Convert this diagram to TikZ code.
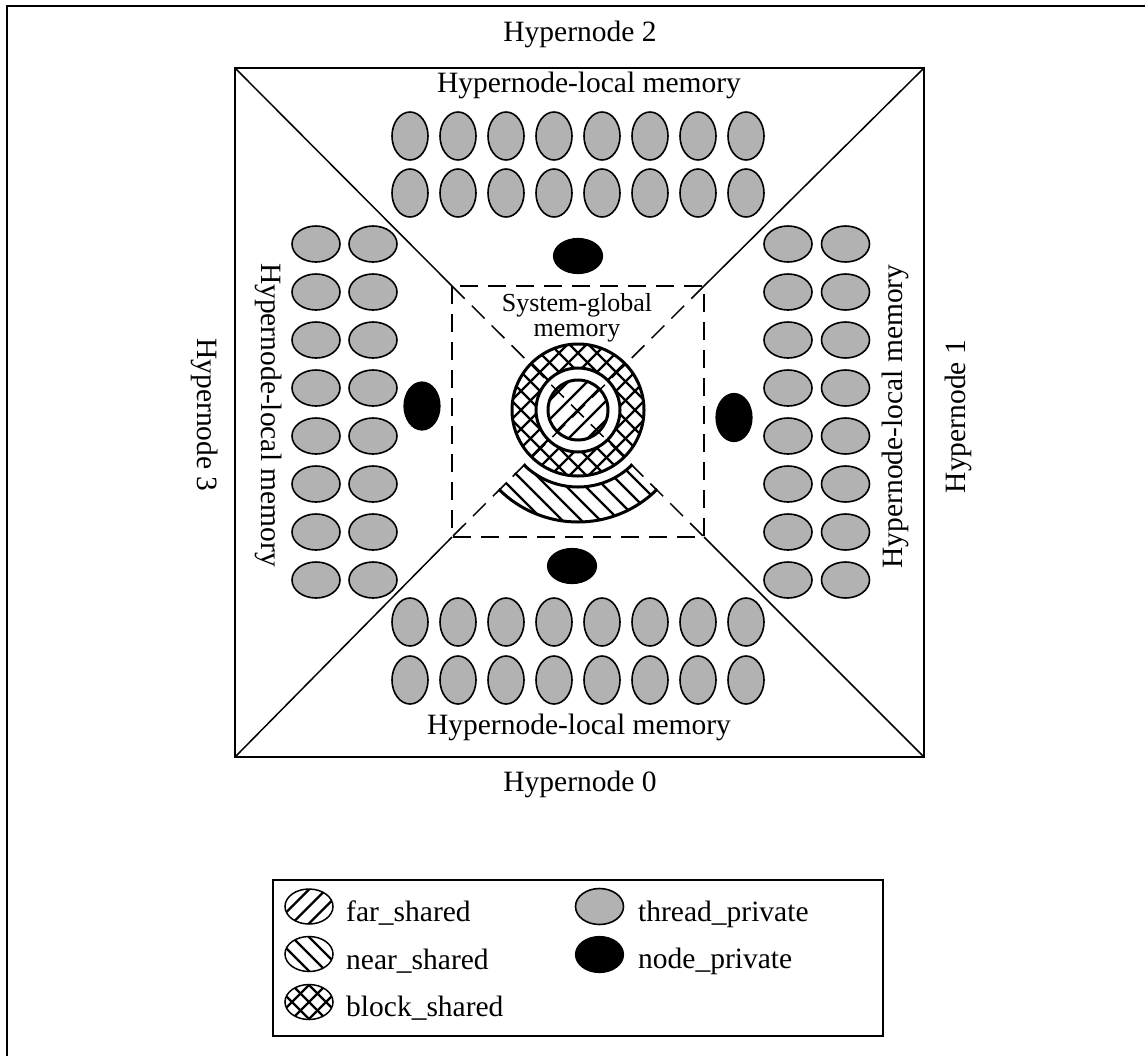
\documentclass[tikz,border=0pt]{standalone}
\usepackage{fontspec}
\setmainfont{Liberation Serif}
\usetikzlibrary{calc}
\begin{document}
\begin{tikzpicture}[x=1pt,y=-1pt,
  lbl/.style={inner sep=0pt, font=\fontsize{29.5}{32}\selectfont},
  sglbl/.style={inner sep=0pt, font=\fontsize{26}{28}\selectfont},
  thread/.style={draw=black, fill=black!30, line width=1.6pt},
  nodepriv/.style={draw=black, fill=black, line width=1.2pt},
  thin/.style={line width=1.5pt},
  dashline/.style={line width=1.5pt, dash pattern=on 18pt off 10pt},
  hatchline/.style={line width=2.2pt},
  ring/.style={line width=3pt}]

\useasboundingbox (0,0) rectangle (1145,1055);
\clip (0,0) rectangle (1145,1055);

% outer frame (left and top edges)
\draw[line width=2.5pt] (7,1070) -- (7,6) -- (1160,6);

% hypernode square with its diagonals
\coordinate (A1) at (235,68);  \coordinate (A2) at (924,68);
\coordinate (A3) at (924,757); \coordinate (A4) at (235,757);
\coordinate (B1) at (452,286); \coordinate (B2) at (704,286);
\coordinate (B3) at (704,537); \coordinate (B4) at (452,537);
\draw[thin] (A1) rectangle (A3);
\draw[thin] (A1) -- (B1) (A2) -- (B2) (A3) -- (B3) (A4) -- (B4);
\draw[dashline] (B1) rectangle (B3);

% thread_private memories
\foreach \i in {0,...,7} {
  \foreach \yy in {136,193,622,680}
    \filldraw[thread] (410+48*\i,\yy) ellipse [x radius=18, y radius=24];
  \foreach \xx in {316,373,788,845.5}
    \filldraw[thread] (\xx,244+48*\i) ellipse [x radius=24, y radius=18];
}

% node_private memories
\filldraw[nodepriv] (578,256) ellipse [x radius=24.5, y radius=17.5];
\filldraw[nodepriv] (572,566) ellipse [x radius=24.5, y radius=17.5];
\filldraw[nodepriv] (422,406) ellipse [x radius=18, y radius=24];
\filldraw[nodepriv] (734,417.5) ellipse [x radius=18, y radius=24];

% system-global memory rings
\coordinate (C) at (578,410);
% block_shared: cross-hatched disk
\begin{scope}
  \clip (C) circle (66);
  \foreach \k in {-6,...,6} {
    \draw[hatchline] (578+\k*19-120,410+120) -- (578+\k*19+120,410-120);
    \draw[hatchline] (578+\k*19-120,410-120) -- (578+\k*19+120,410+120);
  }
\end{scope}
\filldraw[ring, fill=white] (C) circle (42);
% far_shared: inner disk
\begin{scope}
  \clip (C) circle (30);
  \foreach \k in {-4,...,4}
    \draw[hatchline] (578+\k*19-80,410+80) -- (578+\k*19+80,410-80);
\end{scope}
\draw[ring] (C) circle (30);
\draw[ring] (C) circle (66);
% near_shared: lower annular sector
\begin{scope}
  \clip ($(C)+(45:77)$) arc[start angle=45, end angle=135, radius=77]
        -- ($(C)+(135:112)$) arc[start angle=135, end angle=45, radius=112] -- cycle;
  \foreach \k in {-14,...,14}
    \draw[hatchline] (578+\k*19-200,460-200) -- (578+\k*19+200,460+200);
\end{scope}
\draw[ring] ($(C)+(45:77)$) arc[start angle=45, end angle=135, radius=77];
\draw[ring] ($(C)+(45:112)$) arc[start angle=45, end angle=135, radius=112];

% dashed diagonals through the global region
\draw[dashline] (B1) -- (B3) (B2) -- (B4);

% labels
\node[lbl, anchor=base] (hn2) at (580,41) {Hypernode 2};
\node[lbl, anchor=base] (hl2) at (589,92) {Hypernode-local memory};
\node[lbl, anchor=base] (hl0) at (579,734) {Hypernode-local memory};
\node[lbl, anchor=base] (hn0) at (580,791) {Hypernode 0};
\node[lbl, anchor=base, rotate=-90] (hl3) at (261,415) {Hypernode-local memory};
\node[lbl, anchor=base, rotate=-90] (hn3) at (197,415) {Hypernode 3};
\node[lbl, anchor=base, rotate=90] (hl1) at (902,416.5) {Hypernode-local memory};
\node[lbl, anchor=base, rotate=90] (hn1) at (965,416.5) {Hypernode 1};
\node[sglbl, anchor=base] (sg1) at (577,311) {System-global};
\node[sglbl, anchor=base] (sg2) at (577,336) {memory};

% legend
\draw[thin] (273,880) rectangle (883,1036);
\begin{scope}
  \clip (309,906.5) ellipse [x radius=24, y radius=17.5];
  \foreach \k in {-3,...,3}
    \draw[hatchline] (309+\k*17-40,906.5+40) -- (309+\k*17+40,906.5-40);
\end{scope}
\draw[thin] (309,906.5) ellipse [x radius=24, y radius=17.5];
\begin{scope}
  \clip (309,954) ellipse [x radius=24, y radius=17.5];
  \foreach \k in {-3,...,3}
    \draw[hatchline] (309+\k*17-40,954-40) -- (309+\k*17+40,954+40);
\end{scope}
\draw[thin] (309,954) ellipse [x radius=24, y radius=17.5];
\begin{scope}
  \clip (309,1002) ellipse [x radius=24, y radius=17.5];
  \foreach \k in {-3,...,3} {
    \draw[hatchline] (309+\k*17-40,1002+40) -- (309+\k*17+40,1002-40);
    \draw[hatchline] (309+\k*17-40,1002-40) -- (309+\k*17+40,1002+40);
  }
\end{scope}
\draw[thin] (309,1002) ellipse [x radius=24, y radius=17.5];
\filldraw[thread] (599.5,906.5) ellipse [x radius=24, y radius=18];
\filldraw[nodepriv] (599.5,954.5) ellipse [x radius=24, y radius=18];

\node[lbl, anchor=base west] (lfar) at (346,921.7) {far\_shared};
\node[lbl, anchor=base west] (lnear) at (346,969.5) {near\_shared};
\node[lbl, anchor=base west] (lblock) at (346,1016.7) {block\_shared};
\node[lbl, anchor=base west] (lthread) at (638,921) {thread\_private};
\node[lbl, anchor=base west] (lnode) at (638,968.5) {node\_private};
\end{tikzpicture}
\end{document}
